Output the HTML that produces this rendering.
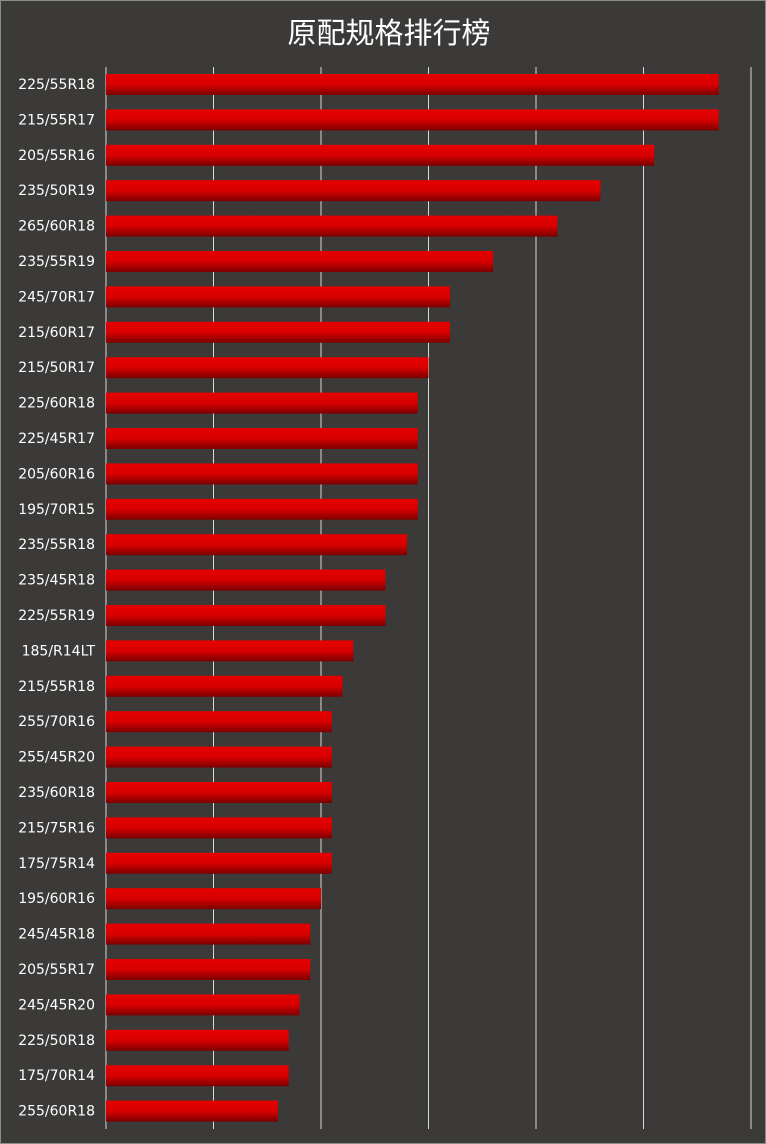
<!DOCTYPE html>
<html><head><meta charset="utf-8"><style>
html,body{margin:0;padding:0;background:#3b3a38;}
svg{display:block;font-family:"DejaVu Sans","Liberation Sans","Noto Sans CJK SC",sans-serif;}
</style></head><body>
<svg id="c" width="766" height="1144">
<defs><linearGradient id="g" x1="0" y1="0" x2="0" y2="1">
<stop offset="0" stop-color="#e60000"/><stop offset="0.5" stop-color="#d80000"/><stop offset="1" stop-color="#7a0000"/></linearGradient></defs>
<rect x="0.5" y="0.5" width="765" height="1143" fill="#3b3a38" stroke="#8a8a88"/>
<text x="389" y="43" fill="#ffffff" font-size="29" text-anchor="middle" font-family="'Noto Sans CJK SC',sans-serif">原配规格排行榜</text>
<g id="grid"></g><g id="bars"></g><g id="labels"></g>
</svg>
<script>
const categories=["225/55R18","215/55R17","205/55R16","235/50R19","265/60R18","235/55R19","245/70R17","215/60R17","215/50R17","225/60R18","225/45R17","205/60R16","195/70R15","235/55R18","235/45R18","225/55R19","185/R14LT","215/55R18","255/70R16","255/45R20","235/60R18","215/75R16","175/75R14","195/60R16","245/45R18","205/55R17","245/45R20","225/50R18","175/70R14","255/60R18"];
const values=[57,57,51,46,42,36,32,32,30,29,29,29,29,28,26,26,23,22,21,21,21,21,21,20,19,19,18,17,17,16];
const xTicks=[0,10,20,30,40,50,60];
const ns="http://www.w3.org/2000/svg";
const x0=106,x1=751,xMax=60,y0=67,y1=1129;
const xs=v=>x0+(v/xMax)*(x1-x0);
const band=(y1-y0)/categories.length;
const grid=document.getElementById('grid'),bars=document.getElementById('bars'),labels=document.getElementById('labels');
xTicks.forEach(t=>{
const l=document.createElementNS(ns,'line');
l.setAttribute('x1',xs(t));l.setAttribute('x2',xs(t));l.setAttribute('y1',y0);l.setAttribute('y2',y1);
l.setAttribute('stroke','#d8d8d8');l.setAttribute('stroke-width','1');


grid.appendChild(l);
});
categories.forEach((c,i)=>{
const top=y0+i*band;
const r=document.createElementNS(ns,'rect');
r.setAttribute('x',x0);r.setAttribute('y',top+7);r.setAttribute('width',xs(values[i])-x0);r.setAttribute('height',21);
r.setAttribute('fill','url(#g)');


bars.appendChild(r);
const t=document.createElementNS(ns,'text');
t.setAttribute('x',95);t.setAttribute('y',top+22);t.setAttribute('text-anchor','end');
t.setAttribute('fill','#ffffff');t.setAttribute('font-size','14');
t.textContent=c;


labels.appendChild(t);
});
</script>
</body></html>
